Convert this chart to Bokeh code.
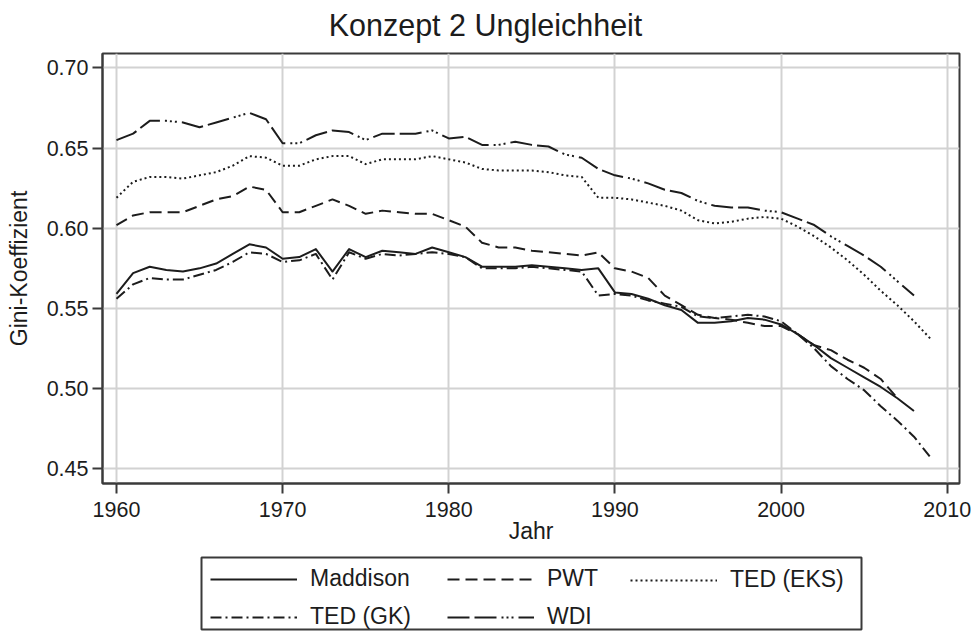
from bokeh.plotting import figure
from bokeh.layouts import column
from bokeh.models import (Range1d, FixedTicker, NumeralTickFormatter, Legend,
                          LegendItem, Label)
from bokeh.embed import file_html
from bokeh.resources import INLINE

# ---------------- data ----------------
years_maddison = list(range(1960, 2009))
maddison = [0.559, 0.572, 0.576, 0.574, 0.573, 0.575, 0.578, 0.584, 0.590, 0.588,
            0.581, 0.582, 0.587, 0.573, 0.587, 0.582, 0.586, 0.585, 0.584, 0.588,
            0.585, 0.582, 0.576, 0.576, 0.576, 0.577, 0.576, 0.575, 0.574, 0.575,
            0.560, 0.559, 0.556, 0.552, 0.549, 0.541, 0.541, 0.542, 0.544, 0.543,
            0.540, 0.534, 0.527, 0.519, 0.513, 0.507, 0.501, 0.494, 0.486]

years_pwt = list(range(1960, 2008))
pwt = [0.602, 0.608, 0.610, 0.610, 0.610, 0.614, 0.618, 0.620, 0.626, 0.624,
       0.610, 0.610, 0.614, 0.618, 0.614, 0.609, 0.611, 0.610, 0.609, 0.609,
       0.605, 0.601, 0.591, 0.588, 0.588, 0.586, 0.585, 0.584, 0.583, 0.585,
       0.575, 0.573, 0.569, 0.558, 0.552, 0.546, 0.544, 0.543, 0.541, 0.539,
       0.539, 0.534, 0.527, 0.524, 0.518, 0.513, 0.506, 0.494]

years_ted_eks = list(range(1960, 2010))
ted_eks = [0.619, 0.629, 0.632, 0.632, 0.631, 0.633, 0.635, 0.639, 0.645, 0.644,
           0.639, 0.639, 0.643, 0.645, 0.645, 0.640, 0.643, 0.643, 0.643, 0.645,
           0.643, 0.641, 0.637, 0.636, 0.636, 0.636, 0.635, 0.633, 0.632, 0.619,
           0.619, 0.618, 0.616, 0.614, 0.611, 0.605, 0.603, 0.604, 0.606, 0.607,
           0.606, 0.601, 0.595, 0.588, 0.580, 0.571, 0.561, 0.552, 0.542, 0.531]

years_ted_gk = list(range(1960, 2010))
ted_gk = [0.556, 0.565, 0.569, 0.568, 0.568, 0.571, 0.574, 0.579, 0.585, 0.584,
          0.579, 0.580, 0.584, 0.568, 0.585, 0.581, 0.584, 0.583, 0.584, 0.585,
          0.584, 0.582, 0.575, 0.575, 0.575, 0.576, 0.575, 0.574, 0.573, 0.558,
          0.559, 0.558, 0.555, 0.553, 0.551, 0.545, 0.544, 0.545, 0.546, 0.545,
          0.542, 0.534, 0.525, 0.514, 0.506, 0.499, 0.489, 0.480, 0.470, 0.457]

years_wdi = list(range(1960, 2009))
wdi = [0.655, 0.659, 0.667, 0.667, 0.666, 0.663, 0.666, 0.669, 0.672, 0.668,
       0.653, 0.653, 0.658, 0.661, 0.660, 0.655, 0.659, 0.659, 0.659, 0.661,
       0.656, 0.657, 0.652, 0.652, 0.654, 0.652, 0.651, 0.646, 0.644, 0.637,
       0.633, 0.631, 0.628, 0.624, 0.622, 0.617, 0.614, 0.613, 0.613, 0.611,
       0.610, 0.606, 0.602, 0.595, 0.589, 0.583, 0.576, 0.567, 0.558]

x_ticks = [1960, 1970, 1980, 1990, 2000, 2010]
y_ticks = [0.45, 0.50, 0.55, 0.60, 0.65, 0.70]

series_names = ["Maddison", "PWT", "TED (EKS)", "TED (GK)", "WDI"]
title_text = "Konzept 2 Ungleichheit"
x_label = "Jahr"
y_label = "Gini-Koeffizient"

# ---------------- styling ----------------
FONT = "Liberation Sans"
INK = "#1c1c1c"
FRAME = "#3a3a3a"
GRID = "#d2d2d2"
W = 976
dashes = {"Maddison": "solid", "PWT": "12 6", "TED (EKS)": "2 3",
          "TED (GK)": "11 4 2 4", "WDI": "22 5 22 5 2 3 2 3 2 5"}

# ---------- title strip ----------
p0 = figure(width=W, height=51, output_backend="svg", toolbar_location=None,
            title=None, x_axis_location=None, y_axis_location=None,
            x_range=Range1d(0, 1), y_range=Range1d(0, 1), min_border=0,
            frame_align=False)
p0.outline_line_color = None
p0.grid.visible = False
p0.add_layout(Label(x=485, y=27, x_units="screen", y_units="screen",
                    text=title_text, text_font=FONT, text_font_size="30.5px",
                    text_color=INK, text_align="center",
                    text_baseline="alphabetic"))

# ---------- main chart ----------
p = figure(width=W, height=499, output_backend="svg", toolbar_location=None,
           title=None, frame_align=False,
           x_range=Range1d(1959.158, 2010.74), y_range=Range1d(0.4408, 0.7090),
           min_border_left=102, min_border_right=17, min_border_top=2,
           min_border_bottom=67)
p.background_fill_color = "white"
p.border_fill_color = "white"
p.outline_line_color = FRAME
p.outline_line_width = 2

for ax in (p.xaxis[0], p.yaxis[0]):
    ax.axis_line_color = FRAME
    ax.axis_line_width = 2
    ax.major_tick_line_color = FRAME
    ax.major_tick_line_width = 2
    ax.major_tick_out = 10
    ax.major_tick_in = 0
    ax.minor_tick_line_color = None
    ax.major_label_text_font = FONT
    ax.major_label_text_font_size = "21.5px"
    ax.major_label_text_color = INK
    ax.axis_label_text_font = FONT
    ax.axis_label_text_font_size = "23px"
    ax.axis_label_text_font_style = "normal"
    ax.axis_label_text_color = INK

p.xaxis.ticker = FixedTicker(ticks=x_ticks)
p.yaxis.ticker = FixedTicker(ticks=y_ticks)
p.yaxis.formatter = NumeralTickFormatter(format="0.00")
p.xaxis.axis_label = x_label
p.yaxis.axis_label = y_label
p.xaxis.major_label_standoff = 8
p.yaxis.major_label_standoff = 4
p.xaxis.axis_label_standoff = -2
p.yaxis.axis_label_standoff = 12

p.xgrid.ticker = FixedTicker(ticks=x_ticks)
p.ygrid.ticker = FixedTicker(ticks=y_ticks)
for g in (p.xgrid[0], p.ygrid[0]):
    g.grid_line_color = GRID
    g.grid_line_width = 2

common = dict(line_color=INK, line_width=2, line_join="round")
data = {"Maddison": (years_maddison, maddison), "PWT": (years_pwt, pwt),
        "TED (EKS)": (years_ted_eks, ted_eks), "TED (GK)": (years_ted_gk, ted_gk),
        "WDI": (years_wdi, wdi)}
for name in series_names:
    xs, ys = data[name]
    p.line(xs, ys, line_dash=dashes[name], **common)

# ---------- legend strip (frame outline = legend box) ----------
p2 = figure(width=W, height=82, output_backend="svg", toolbar_location=None,
            title=None, x_axis_location=None, y_axis_location=None,
            x_range=Range1d(0, 1), y_range=Range1d(0, 1), frame_align=False,
            min_border_left=201, min_border_right=115, min_border_top=7,
            min_border_bottom=3)
p2.grid.visible = False
p2.outline_line_color = FRAME
p2.outline_line_width = 2

# key renderers for the legend; their points lie outside the strip's ranges
keys = {name: p2.line([5, 6], [5, 5], line_dash=dashes[name], **common)
        for name in series_names}

def column_legend(names, loc):
    lg = Legend(items=[LegendItem(label=n, renderers=[keys[n]]) for n in names],
                location=loc, orientation="vertical",
                padding=0, spacing=11, margin=0,
                glyph_width=87, glyph_height=26, label_height=26,
                label_standoff=13, label_text_font=FONT,
                label_text_font_size="23px", label_text_color=INK,
                border_line_color=None, background_fill_alpha=0)
    p2.add_layout(lg)

column_legend(["Maddison", "TED (GK)"], (9, -1))
column_legend(["PWT", "WDI"], (246, -1))
column_legend(["TED (EKS)"], (429, 36))

layout = column(p0, p, p2)
open("out.html", "w").write(file_html(layout, INLINE))
